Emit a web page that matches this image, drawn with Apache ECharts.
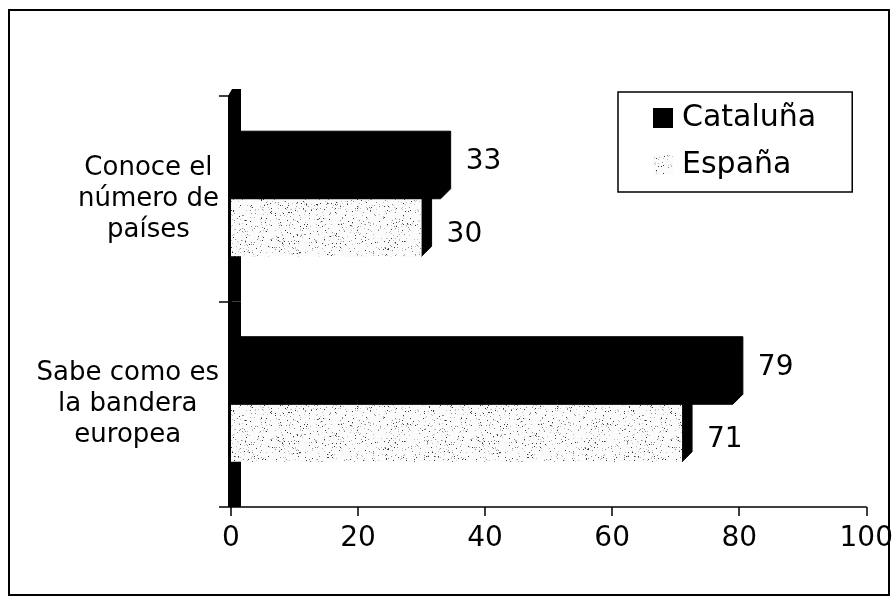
<!DOCTYPE html>
<html><head><meta charset="utf-8">
<script src="https://cdn.jsdelivr.net/npm/echarts@6/dist/echarts.min.js"></script>
<style>
html,body{margin:0;padding:0;background:#fff;}
#chart{width:896px;height:602px;}
#frame{position:absolute;left:8px;top:9px;width:878px;height:583px;border:2px solid #000;pointer-events:none;box-sizing:content-box;}
</style>
</head><body>
<div id="chart"></div><div id="frame"></div>
<script>
const categories = ['Conoce el\nnúmero de\npaíses', 'Sabe como es\nla bandera\neuropea'];
const seriesNames = ['Cataluña', 'España'];
const catalunaValues = [33, 79];
const espanaValues = [30, 71];
const xMin = 0, xMax = 100, xInterval = 20;

const FONT = '"DejaVu Sans", Verdana, sans-serif';

function makeStipple() {
  const N = 200;
  const c = document.createElement('canvas');
  c.width = N; c.height = N;
  const g = c.getContext('2d');
  g.fillStyle = '#fbfbfb'; g.fillRect(0, 0, N, N);
  let s = 424242;
  const rnd = () => { s = (s * 1103515245 + 12345) & 0x7fffffff; return s / 0x7fffffff; };
  const count = Math.round(N * N * 0.075);
  for (let i = 0; i < count; i++) {
    const x = Math.floor(rnd() * N), y = Math.floor(rnd() * N), t = rnd();
    g.fillStyle = t < 0.25 ? '#3a3a3a' : (t < 0.55 ? '#8a8a8a' : '#c0c0c0');
    g.fillRect(x, y, 1, 1);
  }
  return c;
}
const stipple = { image: makeStipple(), repeat: 'repeat' };

function barRenderer(which, fill) {
  return function (params, api) {
    const v = api.value(0), ci = api.value(1);
    const p0 = api.coord([0, ci]), p1 = api.coord([v, ci]);
    const band = api.size([0, 1])[1];
    const h = band * 0.28, d = 10;
    const cy = p0[1];
    const yt = which === 0 ? cy - h : cy;
    const yb = yt + h;
    const x0 = p0[0], xv = p1[0];
    const black = '#000';
    const children = [];
    if (which === 0) {
      children.push({ type: 'polygon',
        shape: { points: [[x0, yb], [x0, yt], [x0 + d, yt - d], [xv + d, yt - d], [xv + d, yb - d], [xv, yb]] },
        style: { fill: black, stroke: black, lineWidth: 1 } });
    } else {
      children.push({ type: 'polygon',
        shape: { points: [[x0, yt], [x0 + d, yt - d], [xv + d, yt - d], [xv + d, yb - d], [xv, yb], [xv, yt]] },
        style: { fill: black, stroke: black, lineWidth: 1 } });
      children.push({ type: 'rect', shape: { x: x0, y: yt, width: xv - x0, height: h }, style: { fill: fill } });
    }
    children.push({ type: 'text', x: xv + d + 15, y: which === 0 ? cy - h / 2 - 8 : cy + h / 2 + 7,
      style: { text: String(v), fill: '#000', font: '28px ' + FONT, verticalAlign: 'middle', align: 'left' } });
    return { type: 'group', children: children };
  };
}

function wallRenderer(params, api) {
  const ci = api.value(1);
  const p0 = api.coord([0, ci]);
  const band = api.size([0, 1])[1];
  const top = p0[1] - band / 2, x = p0[0] - 3;
  if (ci === 0) {
    return { type: 'polygon', shape: { points: [[x, top], [x + 4, top - 7], [x + 13, top - 7], [x + 13, top + band], [x, top + band]] },
      style: { fill: '#000' } };
  }
  return { type: 'rect', shape: { x: x, y: top, width: 13, height: band }, style: { fill: '#000' } };
}

const chart = echarts.init(document.getElementById('chart'));
chart.setOption({
  animation: false,
  backgroundColor: '#fff',
  textStyle: { fontFamily: FONT },
  grid: { left: 231, right: 28, top: 96, bottom: 95 },
  legend: {
    orient: 'vertical', left: 618, top: 92,
    itemWidth: 20, itemHeight: 20, itemGap: 11,
    padding: [8, 36, 9, 35],
    borderColor: '#000', borderWidth: 1.5,
    data: [{ name: seriesNames[0], icon: 'rect' }, { name: seriesNames[1], icon: 'rect' }],
    textStyle: { fontSize: 30, lineHeight: 36, color: '#000', fontFamily: FONT, padding: [0, 0, 0, 4] }
  },
  xAxis: {
    type: 'value', min: xMin, max: xMax, interval: xInterval,
    axisLine: { show: true, lineStyle: { color: '#000', width: 1.5 } },
    axisTick: { show: true, length: 9, lineStyle: { color: '#000', width: 1.5 } },
    axisLabel: { fontSize: 28, color: '#000', margin: 18, fontFamily: FONT },
    splitLine: { show: false }
  },
  yAxis: {
    type: 'category', data: categories, inverse: true,
    axisLine: { show: true, lineStyle: { color: '#000', width: 2 } },
    axisTick: { show: true, length: 12, lineStyle: { color: '#000', width: 1.5 } },
    axisLabel: {
      align: 'right', margin: 12, color: '#000',
      formatter: v => v.split('\n').map(l => '{c|' + l + '}').join('\n'),
      rich: { c: { align: 'center', fontSize: 26, lineHeight: 31, color: '#000', fontFamily: FONT } }
    }
  },
  series: [
    { type: 'custom', name: 'wall', z: 1, silent: true, encode: { x: 0, y: 1 },
      data: categories.map((c, i) => [0, i]), renderItem: wallRenderer },
    { type: 'custom', name: seriesNames[1], z: 2, encode: { x: 0, y: 1 },
      itemStyle: { color: stipple },
      data: espanaValues.map((v, i) => [v, i]), renderItem: barRenderer(1, stipple) },
    { type: 'custom', name: seriesNames[0], z: 3, encode: { x: 0, y: 1 },
      itemStyle: { color: '#000' },
      data: catalunaValues.map((v, i) => [v, i]), renderItem: barRenderer(0, '#000') }
  ]
});
</script>
</body></html>
